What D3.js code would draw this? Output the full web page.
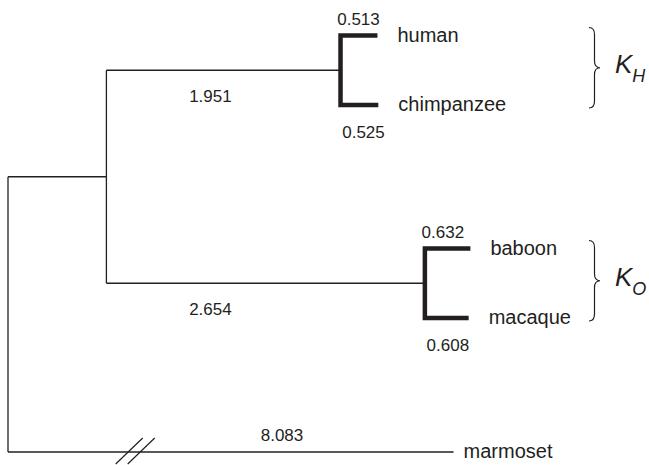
<!DOCTYPE html>
<html><head><meta charset="utf-8">
<script src="https://cdn.jsdelivr.net/npm/d3@7"></script>
<style>html,body{margin:0;padding:0;background:#fff;}svg{display:block;}</style>
</head><body>
<script>
// ---- data ----
const taxa = ["human", "chimpanzee", "baboon", "macaque", "marmoset"];
const tipLengths = [0.513, 0.525, 0.632, 0.608];       // terminal (thick) branches
const cladeLengths = [1.951, 2.654];                     // internal branches to the two clades
const outgroupLength = 8.083;                            // marmoset (broken)
const rootStem = 0.82;                                   // unlabelled stem (estimated)
const breakOmitted = 4.37;                               // units hidden by the // break
const cladeNames = [["K", "H"], ["K", "O"]];

const W = 649, H = 465;
const svg = d3.select("body").append("svg").attr("width", W).attr("height", H);

const x = d3.scaleLinear().domain([0, 1]).range([8, 128]);       // internal branch scale
const tipScale = d3.scaleLinear().domain([0, 1]).range([0, 72]); // terminal branch scale

// vertical layout: gaps between successive leaves
const gaps = [0, 69.5, 143.5, 69.5, 134];
const leafY = [];
gaps.reduce((acc, g, i) => (leafY[i] = acc + g), 35.5);
const y = d3.scaleLinear().domain([0, 1]).range([0, 1]);
const ly = i => y(leafY[i]);

const font = "'Liberation Sans', Arial, Helvetica, sans-serif";
const ink = "#231f20";

const innerX = x(rootStem);
const clades = [[0, 1], [2, 3]];
const cladeY = clades.map(c => (ly(c[0]) + ly(c[1])) / 2);
const innerY = (cladeY[0] + cladeY[1]) / 2;
const outY = ly(4);
const cladeX = cladeLengths.map(l => x(rootStem + l));

const thin = svg.append("g").attr("fill", "none").attr("stroke", ink).attr("stroke-width", 1.3);
thin.append("line").attr("x1", x(0)).attr("x2", x(0)).attr("y1", innerY).attr("y2", outY);
thin.append("line").attr("x1", x(0)).attr("x2", innerX).attr("y1", innerY).attr("y2", innerY);
thin.append("line").attr("x1", innerX).attr("x2", innerX).attr("y1", cladeY[0]).attr("y2", cladeY[1]);
cladeX.forEach((cx, i) => {
  thin.append("line").attr("x1", innerX).attr("x2", cx).attr("y1", cladeY[i]).attr("y2", cladeY[i]);
});
const outEnd = x(outgroupLength - breakOmitted);
thin.append("line").attr("x1", x(0)).attr("x2", outEnd).attr("y1", outY).attr("y2", outY);
const bx = x(1.06);
[-6, 6].forEach(off => {
  thin.append("line").attr("x1", bx + off - 13.5).attr("y1", outY + 12)
    .attr("x2", bx + off + 13.5).attr("y2", outY - 14).attr("stroke-width", 1.2);
});

const tipEnds = [];
clades.forEach((c, i) => {
  const cx = cladeX[i];
  const e0 = cx + tipScale(tipLengths[c[0]]);
  const e1 = cx + tipScale(tipLengths[c[1]]);
  tipEnds[c[0]] = e0; tipEnds[c[1]] = e1;
  svg.append("path")
    .attr("d", `M${e0},${ly(c[0])}H${cx}V${ly(c[1])}H${e1}`)
    .attr("fill", "none").attr("stroke", ink).attr("stroke-width", 4.5)
    .attr("stroke-linejoin", "miter");
});
tipEnds[4] = outEnd;

svg.append("g").selectAll("text").data(taxa).join("text")
  .attr("x", (d, i) => tipEnds[i] + (i === 4 ? 10 : 20))
  .attr("y", (d, i) => ly(i) + 6)
  .attr("font-family", font).attr("font-size", 20).attr("fill", ink)
  .text(d => d);

const numStyle = s => s.attr("font-family", font).attr("font-size", 17).attr("fill", ink).attr("text-anchor", "middle");
cladeLengths.forEach((l, i) => {
  svg.append("text").call(numStyle).attr("x", innerX + 104).attr("y", cladeY[i] + 32).text(l.toFixed(3));
});
clades.forEach((c, i) => {
  const cx = cladeX[i];
  svg.append("text").call(numStyle).attr("x", cx + 18).attr("y", ly(c[0]) - 11).text(tipLengths[c[0]].toFixed(3));
  svg.append("text").call(numStyle).attr("x", cx + 23).attr("y", ly(c[1]) + 33).text(tipLengths[c[1]].toFixed(3));
});
svg.append("text").call(numStyle).attr("x", 282).attr("y", outY - 11).text(outgroupLength.toFixed(3));

function brace(x0, y1, y2, w) {
  const ym = (y1 + y2) / 2, r = 7, xm = x0 + w / 2;
  return `M${x0},${y1}Q${xm},${y1} ${xm},${y1 + r}L${xm},${ym - r}Q${xm},${ym} ${x0 + w},${ym}` +
         `Q${xm},${ym} ${xm},${ym + r}L${xm},${y2 - r}Q${xm},${y2} ${x0},${y2}`;
}
clades.forEach((c, i) => {
  const y1 = ly(c[0]) - 8, y2 = ly(c[1]) + 3;
  svg.append("path").attr("d", brace(589, y1, y2, 11))
    .attr("fill", "none").attr("stroke", ink).attr("stroke-width", 1.2);
  const t = svg.append("text").attr("x", 615).attr("y", (y1 + y2) / 2 + 5)
    .attr("font-family", font).attr("font-style", "italic").attr("fill", ink);
  t.append("tspan").attr("font-size", 26).text(cladeNames[i][0]);
  t.append("tspan").attr("font-size", 18).attr("dy", 9).text(cladeNames[i][1]);
});
</script>
</body></html>
